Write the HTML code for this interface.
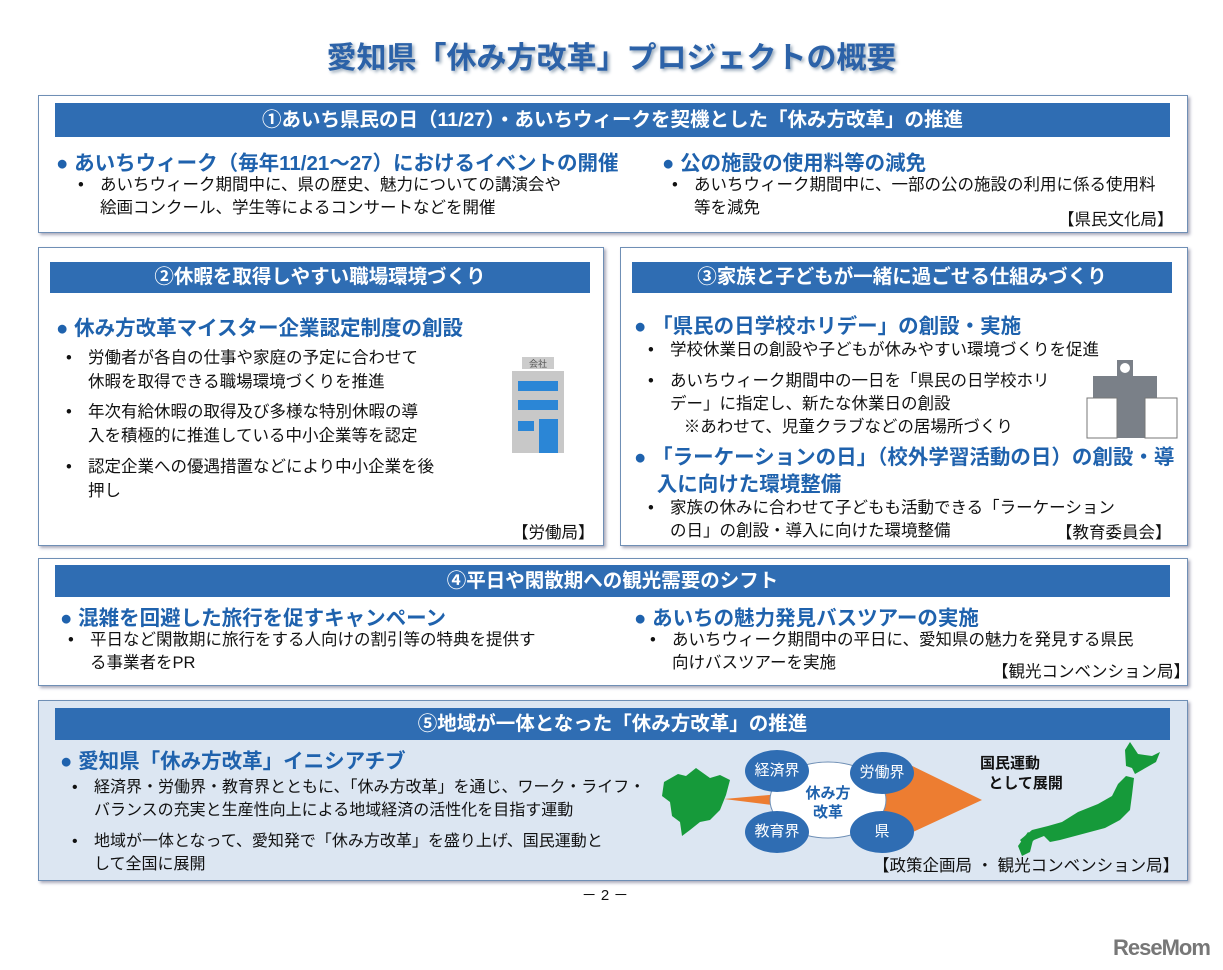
<!DOCTYPE html>
<html><head><meta charset="utf-8"><style>
*{margin:0;padding:0;box-sizing:border-box}
body{width:1223px;height:970px;background:#fff;position:relative;overflow:hidden;font-family:"Liberation Sans","Noto Sans CJK JP",sans-serif;color:#111}
.a{position:absolute;white-space:nowrap}
.box{position:absolute;border:1.5px solid #6f8fb5;background:#fff;box-shadow:2px 2px 3px #aab}
.bar{position:absolute;background:#2f6db3;color:#fff;font-weight:bold;font-size:19.5px;text-align:center;line-height:32px}
.h{font-weight:bold;color:#1f62ad;font-size:20.5px}
.b{font-size:16.5px;line-height:23px;padding-left:24px}
.b::before{content:"•";position:absolute;left:2px;top:0}
.c{position:absolute;width:64px;height:42px;border-radius:50%;background:#2f6db3;color:#fff;font-size:15px;text-align:center;line-height:42px}
</style></head><body>
<div class="a" style="left:0;width:1223px;text-align:center;top:33px;font-size:30px;font-weight:bold;color:#2c62a8;text-shadow:2px 2px 3px #9ab">愛知県「休み方改革」プロジェクトの概要</div>

<div class="box" style="left:38px;top:95px;width:1150px;height:138px"></div>
<div class="bar" style="left:55px;top:103px;width:1115px;height:34px;line-height:34px">①あいち県民の日（11/27）・あいちウィークを契機とした「休み方改革」の推進</div>
<div class="a h" style="left:56px;top:146px">● あいちウィーク（毎年11/21～27）におけるイベントの開催</div>
<div class="a b" style="left:76px;top:174px">あいちウィーク期間中に、県の歴史、魅力についての講演会や<br>絵画コンクール、学生等によるコンサートなどを開催</div>
<div class="a h" style="left:662px;top:146px">● 公の施設の使用料等の減免</div>
<div class="a b" style="left:670px;top:174px">あいちウィーク期間中に、一部の公の施設の利用に係る使用料<br>等を減免</div>
<div class="a" style="left:1058px;top:206px;font-size:16.5px">【県民文化局】</div>

<div class="box" style="left:38px;top:247px;width:566px;height:299px"></div>
<div class="bar" style="left:50px;top:262px;width:540px;height:31px;line-height:31px">②休暇を取得しやすい職場環境づくり</div>
<div class="a h" style="left:56px;top:311px">● 休み方改革マイスター企業認定制度の創設</div>
<div class="a b" style="left:64px;top:346px;line-height:24px">労働者が各自の仕事や家庭の予定に合わせて<br>休暇を取得できる職場環境づくりを推進</div>
<div class="a b" style="left:64px;top:400px;line-height:24px">年次有給休暇の取得及び多様な特別休暇の導<br>入を積極的に推進している中小企業等を認定</div>
<div class="a b" style="left:64px;top:455px;line-height:24px">認定企業への優遇措置などにより中小企業を後<br>押し</div>
<div class="a" style="left:512px;top:519px;font-size:16.5px">【労働局】</div>
<svg class="a" style="left:508px;top:355px" width="60" height="100"><rect x="14" y="2" width="32" height="12" fill="#ccc"/><text x="30" y="12" font-size="9" text-anchor="middle" fill="#555">会社</text><rect x="4" y="16" width="52" height="82" fill="#c8c8c8"/><rect x="10" y="26" width="40" height="10" fill="#2b86d6"/><rect x="10" y="45" width="40" height="10" fill="#2b86d6"/><rect x="10" y="66" width="16" height="10" fill="#2b86d6"/><rect x="31" y="64" width="19" height="34" fill="#2b86d6"/></svg>

<div class="box" style="left:620px;top:247px;width:568px;height:299px"></div>
<div class="bar" style="left:632px;top:262px;width:540px;height:31px;line-height:31px">③家族と子どもが一緒に過ごせる仕組みづくり</div>
<div class="a h" style="left:634px;top:309px">● 「県民の日学校ホリデー」の創設・実施</div>
<div class="a b" style="left:646px;top:339px">学校休業日の創設や子どもが休みやすい環境づくりを促進</div>
<div class="a b" style="left:646px;top:370px">あいちウィーク期間中の一日を「県民の日学校ホリ<br>デー」に指定し、新たな休業日の創設<br>&nbsp;&nbsp;&nbsp;※あわせて、児童クラブなどの居場所づくり</div>
<div class="a h" style="left:634px;top:444px;line-height:27px">● 「ラーケーションの日」（校外学習活動の日）の創設・導<br>&nbsp;&nbsp;&nbsp;&nbsp;入に向けた環境整備</div>
<div class="a b" style="left:646px;top:497px">家族の休みに合わせて子どもも活動できる「ラーケーション<br>の日」の創設・導入に向けた環境整備</div>
<div class="a" style="left:1056px;top:519px;font-size:16.5px">【教育委員会】</div>
<svg class="a" style="left:1085px;top:358px" width="95" height="82"><rect x="32" y="2" width="16" height="16" fill="#7a8088"/><circle cx="40" cy="10" r="5" fill="#fff"/><rect x="8" y="18" width="64" height="62" fill="#7a8088"/><rect x="2" y="40" width="30" height="40" fill="#fff" stroke="#777"/><rect x="60" y="40" width="32" height="40" fill="#fff" stroke="#777"/></svg>

<div class="box" style="left:38px;top:558px;width:1150px;height:128px"></div>
<div class="bar" style="left:55px;top:565px;width:1115px;height:32px">④平日や閑散期への観光需要のシフト</div>
<div class="a h" style="left:60px;top:601px">● 混雑を回避した旅行を促すキャンペーン</div>
<div class="a b" style="left:66px;top:629px">平日など閑散期に旅行をする人向けの割引等の特典を提供す<br>る事業者をPR</div>
<div class="a h" style="left:634px;top:601px">● あいちの魅力発見バスツアーの実施</div>
<div class="a b" style="left:648px;top:629px">あいちウィーク期間中の平日に、愛知県の魅力を発見する県民<br>向けバスツアーを実施</div>
<div class="a" style="left:992px;top:658px;font-size:16.5px">【観光コンベンション局】</div>

<div class="box" style="left:38px;top:700px;width:1150px;height:181px;background:#dce6f2"></div>
<div class="bar" style="left:55px;top:708px;width:1115px;height:32px">⑤地域が一体となった「休み方改革」の推進</div>
<div class="a h" style="left:60px;top:744px">● 愛知県「休み方改革」イニシアチブ</div>
<div class="a b" style="left:70px;top:776px;font-size:16px">経済界・労働界・教育界とともに、「休み方改革」を通じ、ワーク・ライフ・<br>バランスの充実と生産性向上による地域経済の活性化を目指す運動</div>
<div class="a b" style="left:70px;top:830px;font-size:16px">地域が一体となって、愛知発で「休み方改革」を盛り上げ、国民運動と<br>して全国に展開</div>
<svg class="a" style="left:660px;top:740px" width="520" height="120">
<path d="M4 42 L18 34 L26 36 L36 28 L50 38 L60 35 L70 40 L66 55 L60 70 L50 80 L40 82 L30 90 L22 96 L20 82 L12 76 L10 62 L2 56 Z" fill="#169a3a"/>
<polygon points="64,59 120,54 120,66" fill="#ed7d31"/>
<polygon points="222,48 240,42 240,20 322,60 240,98 240,78 222,72" fill="#ed7d31"/>
<ellipse cx="168" cy="60" rx="58" ry="38" fill="#fff" stroke="#6f8fb5"/>
<text x="168" y="58" font-size="15" font-weight="bold" fill="#1f62ad" text-anchor="middle">休み方</text>
<text x="168" y="77" font-size="15" font-weight="bold" fill="#1f62ad" text-anchor="middle">改革</text>
<path d="M465 10 L470 2 L478 14 L492 16 L500 12 L496 22 L482 30 L475 34 L472 28 L466 26 Z" fill="#169a3a"/>
<path d="M466 36 L474 38 L472 55 L470 70 L460 80 L445 88 L430 92 L415 96 L400 100 L390 102 L384 96 L374 100 L366 108 L360 100 L372 90 L388 86 L402 82 L418 72 L438 64 L452 56 L458 44 Z" fill="#169a3a"/>
<path d="M368 92 L374 96 L370 112 L362 116 L358 106 Z" fill="#169a3a"/>
</svg>
<div class="c" style="left:745px;top:750px">経済界</div>
<div class="c" style="left:850px;top:752px">労働界</div>
<div class="c" style="left:745px;top:811px">教育界</div>
<div class="c" style="left:850px;top:811px">県</div>
<div class="a" style="left:980px;top:754px;font-size:15px;font-weight:bold;line-height:20px">国民運動<br>&nbsp;&nbsp;として展開</div>
<div class="a" style="left:873px;top:852px;font-size:16.5px">【政策企画局 ・ 観光コンベンション局】</div>

<div class="a" style="left:0;width:1210px;text-align:center;top:884px;font-size:15px">－ 2 －</div>
<div class="a" style="left:1113px;top:935px;font-size:22px;font-weight:bold;color:#777;letter-spacing:-1px">ReseMom</div>
</body></html>
